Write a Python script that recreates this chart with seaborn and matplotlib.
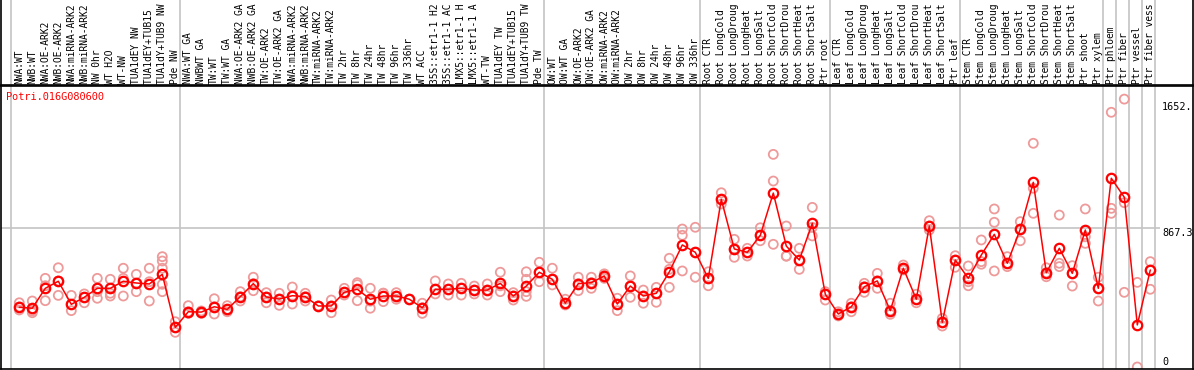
import numpy as np
import pandas as pd
import matplotlib
matplotlib.use("Agg")
import matplotlib.pyplot as plt
import seaborn as sns

gene = "Potri.016G080600"

labels = [
    "NWA:WT", "NWB:WT", "NWA:OE-ARK2", "NWB:OE-ARK2", "NWA:miRNA-ARK2", "NWB:miRNA-ARK2",
    "NW 0hr", "WT H2O", "WT-NW", "TUA1dEY NW", "TUA1dEY+TUB15 NW", "TUA1dY+TUB9 NW", "Pde NW",
    "NWA:WT GA", "NWBWT GA", "TW:WT", "TW:WT GA", "NWA:OE-ARK2 GA", "NWB:OE-ARK2 GA",
    "TW:OE-ARK2", "TW:OE-ARK2 GA", "NWA:miRNA-ARK2 GA", "NWB:miRNA-ARK2 GA", "TW:miRNA-ARK2",
    "TW:miRNA-ARK2 GA", "TW 2hr", "TW 8hr", "TW 24hr", "TW 48hr", "TW 96hr", "TW 336hr",
    "WT ACC", "35S::etr1-1 H2O", "35S::etr1-1 ACC", "LMX5::etr1-1 H2O", "LMX5::etr1-1 ACC",
    "WT-TW", "TUA1dEY TW", "TUA1dEY+TUB15 TW", "TUA1dY+TUB9 TW", "Pde TW",
    "OW:WT", "OW:WT GA", "OW:OE-ARK2", "OW:OE-ARK2 GA", "OW:miRNA-ARK2", "OW:miRNA-ARK2 GA",
    "OW 2hr", "OW 8hr", "OW 24hr", "OW 48hr", "OW 96hr", "OW 336hr",
    "Root CTR", "Root LongCold", "Root LongDrought", "Root LongHeat", "Root LongSalt",
    "Root ShortCold", "Root ShortDrought", "Root ShortHeat", "Root ShortSalt", "Ptr root",
    "Leaf CTR", "Leaf LongCold", "Leaf LongDrought", "Leaf LongHeat", "Leaf LongSalt",
    "Leaf ShortCold", "Leaf ShortDrought", "Leaf ShortHeat", "Leaf ShortSalt", "Ptr leaf",
    "Stem CTR", "Stem LongCold", "Stem LongDrought", "Stem LongHeat", "Stem LongSalt",
    "Stem ShortCold", "Stem ShortDrought", "Stem ShortHeat", "Stem ShortSalt", "Ptr shoot",
    "Ptr xylem", "Ptr phloem", "Ptr fiber", "Ptr vessel", "Ptr fiber vessel",
]
label_chars = 14   # the header row shows at most 14 characters of each name

# first index of each group (last entry = end)
group_starts = [0, 13, 41, 53, 63, 73, 84, 85, 86, 87, 88]

means = [
    372, 366, 490, 534, 390, 434, 490, 490, 534, 523, 517, 577, 247,
    344, 342, 375, 359, 438, 519, 436, 423, 444, 438, 380, 380, 465, 484, 422, 442, 442,
    422, 369, 484, 484, 490, 479, 479, 521, 442, 504, 590,
    546, 397, 519, 525, 567, 392, 504, 442, 459, 592, 760, 714,
    552, 1044, 735, 714, 820, 1083, 753, 666, 895, 453,
    330, 375, 500, 536, 351, 615, 422, 878, 278, 666,
    552, 697, 826, 646, 859, 1150, 587, 739, 583, 853, 490,
    1175, 1057, 262, 604,
]

reps = [
    [400, 355, 374], [411, 338, 349], [552, 506, 413], [618, 536, 446], [446, 390, 351],
    [455, 434, 400], [552, 469, 428], [546, 459, 442], [615, 552, 442], [577, 521, 469],
    [615, 531, 411], [687, 660, 615, 515, 469], [282, 247, 216],
    [382, 344, 334], [349, 334, 342], [425, 375, 330], [382, 359, 344], [469, 438, 411],
    [559, 519, 475], [463, 436, 400], [459, 423, 384], [498, 444, 392], [459, 438, 411],
    [380, 380], [417, 338, 380], [490, 448, 465], [525, 513, 413], [490, 366, 410],
    [459, 460, 407], [463, 422, 442], [422, 422], [397, 334, 369], [536, 455, 484],
    [517, 448, 484], [521, 448, 490], [504, 455, 479], [517, 448, 479], [590, 469, 505],
    [463, 417, 442], [593, 546, 469, 440], [652, 531, 590],
    [615, 511, 546], [422, 386, 397], [559, 475, 519], [559, 525, 490], [580, 552, 569],
    [428, 351, 392], [567, 434, 504], [479, 397, 442], [496, 403, 459], [677, 608, 496],
    [859, 820, 598], [870, 559, 714],
    [593, 506, 552], [1085, 1015, 1044], [795, 683, 735], [739, 691, 714], [867, 786, 820],
    [1324, 1158, 764], [878, 691, 690], [739, 608, 666], [994, 870, 816], [469, 417, 453],
    [344, 318, 330], [397, 344, 375], [521, 465, 500], [583, 490, 536], [397, 328, 351],
    [635, 604, 615], [453, 400, 422], [911, 853, 878], [303, 255, 278], [693, 621, 666],
    [629, 531, 506], [791, 656, 640], [984, 901, 598], [687, 625, 646], [905, 786, 859],
    [1393, 1113, 957], [618, 562, 587], [946, 646, 625], [631, 504, 583], [984, 811, 770],
    [559, 411, 490],
    [1586, 988, 957], [1668, 1023, 465], [527, 0], [656, 484, 604],
]

ytick_values = [1652, 867.3, 0]
ytick_labels = ["1652.", "867.3", "0"]
grid_value = 867.3

sns.set_theme(style="white")
plt.rcParams["font.family"] = ["DejaVu Sans Mono"]

W, H = 1194, 370
fig = plt.figure(figsize=(W / 100, H / 100), dpi=100)

X0PX, STEP = 19.3, 13.0          # pixel of first category, pixel step
def xdata(px):
    return (px - X0PX) / STEP

XL = (xdata(1), xdata(1193))
SCALE = 0.1606                    # pixels per unit
Y0PX = 367                        # pixel row of value 0
TOP, BOT = 86, 369                # plot area rows

ax = fig.add_axes([1 / W, (H - BOT) / H, 1192 / W, (BOT - TOP) / H])
ax.set_xlim(*XL)
ax.set_ylim(-(BOT - Y0PX) / SCALE, (Y0PX - TOP) / SCALE)

lab = fig.add_axes([1 / W, (H - 85) / H, 1192 / W, 85 / H])
lab.set_xlim(*XL)
lab.set_ylim(0, 85)

grid_c = "#c4c4c4"
for a in (ax, lab):
    a.set_xticks([])
    a.set_yticks([])
    a.set_facecolor("white")
    for s in a.spines.values():
        s.set_color("black")
        s.set_linewidth(1.2)
    for g in group_starts:
        a.axvline(g - 0.64, color=grid_c, lw=1.2, zorder=0)
lab.spines["top"].set_visible(False)

ax.hlines(grid_value, XL[0], xdata(1160), color=grid_c, lw=1.2, zorder=0)

# replicate points
rx, ry = [], []
for i, r in enumerate(reps):
    rx += [i] * len(r)
    ry += r
df_reps = pd.DataFrame({"x": rx, "value": ry})
sns.scatterplot(data=df_reps, x="x", y="value", ax=ax, marker="o", s=42,
                color="none", edgecolor="#ee9a9a", linewidth=1.3, zorder=2)

df_mean = pd.DataFrame({"x": np.arange(len(means)), "value": means})
sns.lineplot(data=df_mean, x="x", y="value", ax=ax, color="red", lw=1.1,
             marker="o", markersize=6.8, markerfacecolor="none",
             markeredgecolor="red", markeredgewidth=1.6, zorder=3)
ax.set_xlabel("")
ax.set_ylabel("")
ax.set_xlim(*XL)

fs = 6.9
for i, t in enumerate(labels):
    lab.text(i, 1.5, t[:label_chars], rotation=90, ha="center", va="bottom",
             fontsize=fs, color="black", clip_on=True)

for v, t in zip(ytick_values, ytick_labels):
    ax.text(xdata(1162), v, t, ha="left", va="bottom" if v == 0 else "top",
            fontsize=7.3, color="black")

fig.text(6 / W, 1 - 97 / H, gene, color="red", ha="left", va="center", fontsize=7.4)

fig.savefig("out.png", dpi=100)
